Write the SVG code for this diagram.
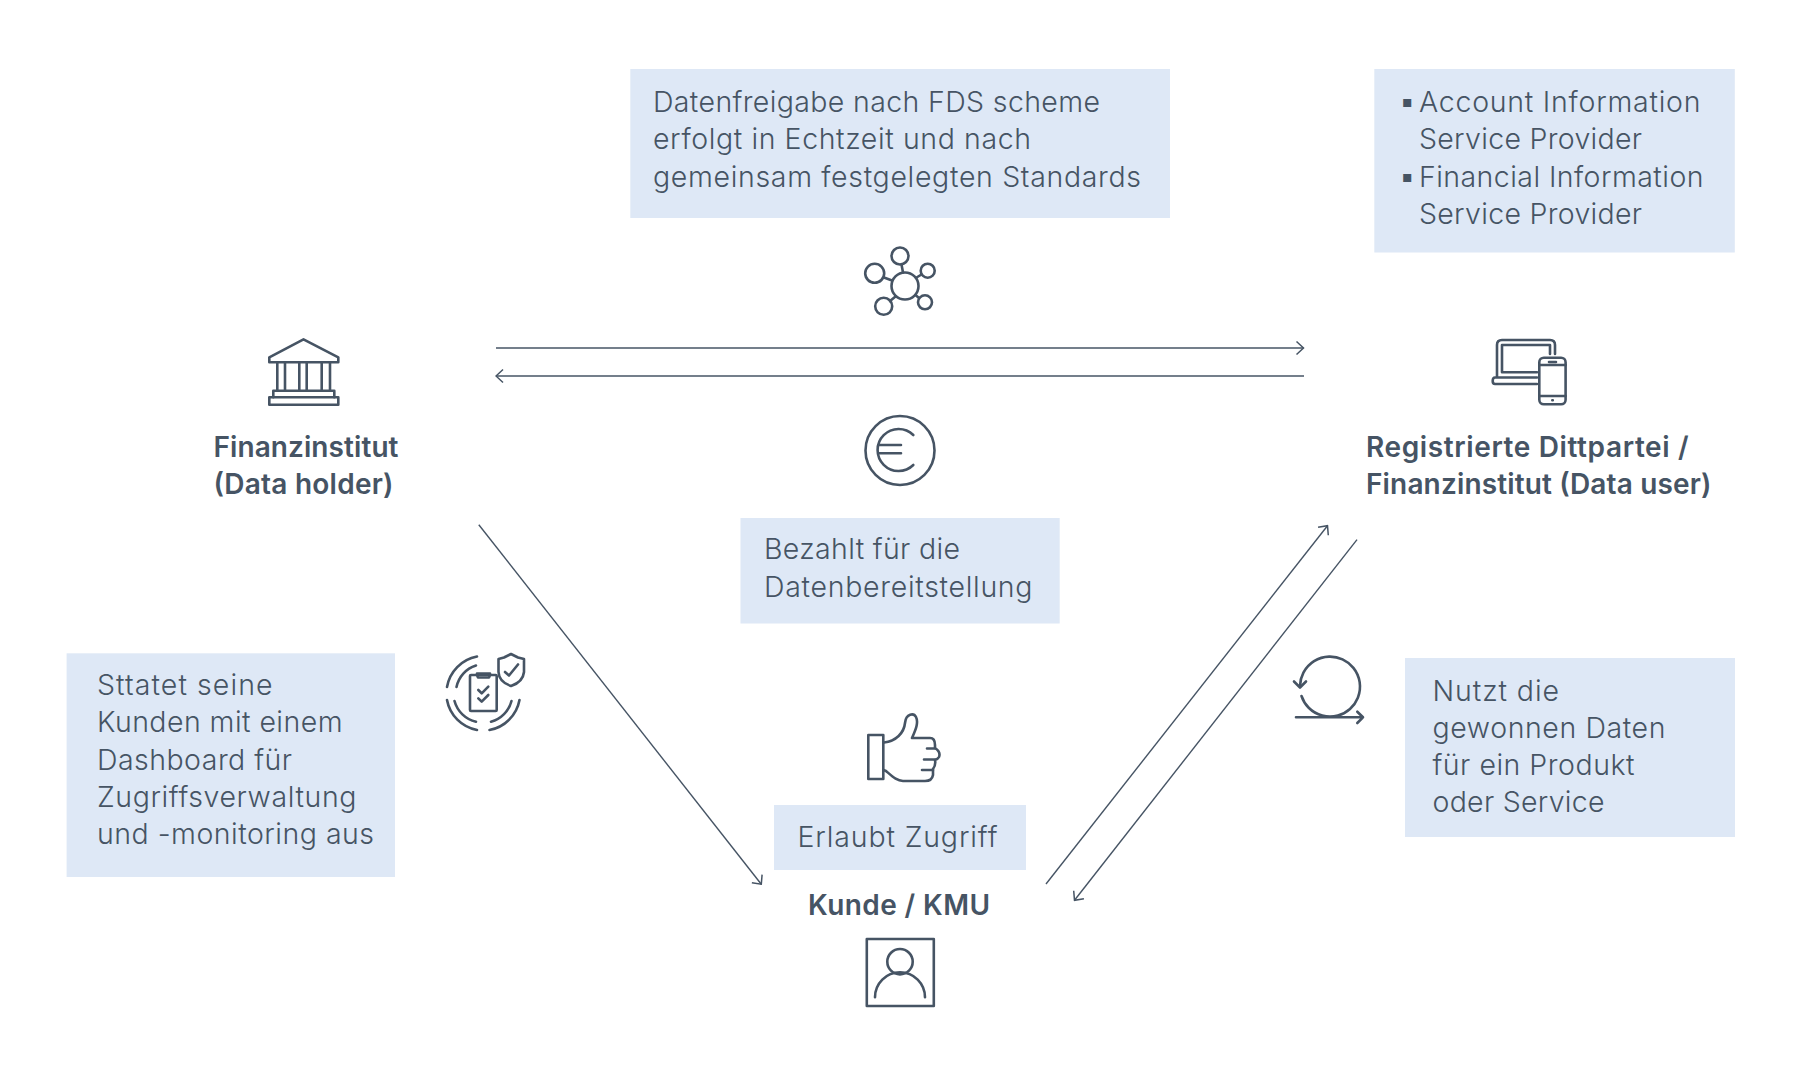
<svg xmlns="http://www.w3.org/2000/svg" width="1800" height="1080" viewBox="0 0 1800 1080">
<style>
.bx{fill:#dee8f6}
.t{font-family:"Inter","Liberation Sans",sans-serif;font-size:28.5px;fill:#465464;font-weight:300}
.p{font-size:33px}
.b{font-family:"Inter","Liberation Sans",sans-serif;font-size:28px;fill:#465464;font-weight:600}
.i{fill:none;stroke:#465464;stroke-width:2.6;stroke-linecap:round;stroke-linejoin:round}
.c{fill:none;stroke:#465464;stroke-width:1.4}
</style>
<defs>
<marker id="arr" viewBox="0 0 14 20" markerUnits="userSpaceOnUse" markerWidth="14" markerHeight="20" refX="13" refY="10" orient="auto">
<path d="M6 3.500L13 10L6 16.500" fill="none" stroke="#465464" stroke-width="1.500"/>
</marker>
</defs>
<rect width="1800" height="1080" fill="#fff"/>
<g id="connectors">
<line class="c" x1="496" y1="348" x2="1303.500" y2="348" marker-end="url(#arr)"/>
<line class="c" x1="1304" y1="376" x2="496" y2="376" marker-end="url(#arr)"/>
<line class="c" x1="478.800" y1="524.700" x2="761.300" y2="884.200" marker-end="url(#arr)"/>
<line class="c" x1="1046" y1="884" x2="1327.500" y2="525.700" marker-end="url(#arr)"/>
<line class="c" x1="1357" y1="539.600" x2="1074.500" y2="900.300" marker-end="url(#arr)"/>
</g>
<g id="note-fds">
<rect class="bx" x="630.300" y="69" width="539.700" height="149"/>
<text class="t" x="653" y="112" textLength="447">Datenfreigabe nach FDS scheme</text>
<text class="t" x="653" y="149" textLength="378">erfolgt in Echtzeit und nach</text>
<text class="t" x="653" y="186.500" textLength="488">gemeinsam festgelegten Standards</text>
</g>
<g id="note-providers">
<rect class="bx" x="1374.300" y="69" width="360.500" height="183.500"/>
<text class="t p" x="1398" y="113">▪</text>
<text class="t" x="1419" y="112" textLength="281.500">Account Information</text>
<text class="t" x="1419" y="149" textLength="223">Service Provider</text>
<text class="t p" x="1398" y="187.500">▪</text>
<text class="t" x="1419" y="186.500" textLength="284.500">Financial Information</text>
<text class="t" x="1419" y="223.500" textLength="223">Service Provider</text>
</g>
<g id="icon-network" class="i">
<circle cx="905" cy="286" r="13.500"/>
<circle cx="900" cy="256" r="8.500"/>
<circle cx="874.700" cy="273.300" r="9.500"/>
<circle cx="927.700" cy="270.700" r="7"/>
<circle cx="925" cy="302.300" r="7"/>
<circle cx="883.700" cy="306.300" r="8.500"/>
<path d="M901.500 264.500L903 272.500M884 277.500L892 280.500M916.500 277.500L921.500 274.500M915.500 295L919 298M895.500 296.500L890 301"/>
</g>
<g id="node-bank">
<g class="i">
<path d="M269.300 357.300L303.500 339.300L338.300 357.300V362.300H269.300Z"/>
<path d="M277.300 362.300V390.700M285 362.300V390.700M299.300 362.300V390.700M306.700 362.300V390.700M321.700 362.300V390.700M330 362.300V390.700"/>
<path d="M273.300 397.300V390.700H334.300V397.300"/>
<path d="M269.300 397.300H338.300V404.700H269.300Z"/>
</g>
<text class="b" x="213.500" y="456.700" textLength="185">Finanzinstitut</text>
<text class="b" x="213.500" y="494" textLength="180">(Data holder)</text>
</g>
<g id="node-user">
<g class="i">
<path d="M1497 376.500V345Q1497 340 1502 340H1550Q1555 340 1555 345V354"/>
<path d="M1502 345H1550V354M1502 345V372.300H1537"/>
<path d="M1537 377.500H1495Q1492.700 377.500 1492.700 381Q1492.700 384 1495 384H1537"/>
<rect x="1539.300" y="357.700" width="26.300" height="46.600" rx="4.500"/>
<path d="M1539.300 365H1565.600M1539.300 396H1565.600M1549 362H1556M1552.300 400.300H1552.800"/>
</g>
<text class="b" x="1366" y="456.700" textLength="322.500">Registrierte Dittpartei /</text>
<text class="b" x="1366" y="494" textLength="345.500">Finanzinstitut (Data user)</text>
</g>
<g id="icon-euro" class="i">
<circle cx="900" cy="450.500" r="34.500"/>
<path d="M913.300 435A21 21 0 1 0 913.300 465"/>
<path d="M878.300 445H901M878.300 453.300H901"/>
</g>
<g id="note-paid">
<rect class="bx" x="740.500" y="518" width="319.200" height="105.500"/>
<text class="t" x="764" y="559.300" textLength="196">Bezahlt für die</text>
<text class="t" x="764" y="596.500" textLength="268.500">Datenbereitstellung</text>
</g>
<g id="note-dashboard">
<rect class="bx" x="66.600" y="653.300" width="328.400" height="223.700"/>
<text class="t" x="97" y="695" textLength="175.500">Sttatet seine</text>
<text class="t" x="97" y="732.400" textLength="245.500">Kunden mit einem</text>
<text class="t" x="97" y="769.500" textLength="195">Dashboard für</text>
<text class="t" x="97" y="807" textLength="259.500">Zugriffsverwaltung</text>
<text class="t" x="97" y="844" textLength="277">und -monitoring aus</text>
</g>
<g id="icon-checklist" class="i">
<rect x="470" y="675" width="26.700" height="36" rx="1"/>
<path d="M477 675V673.500H490V675L489 677.500H478Z"/>
<path d="M478.300 690L481.700 693.300L488.300 686.700M478.300 698.300L481.700 701.700L488.300 695"/>
<path d="M511 654L518 657.500L524 659V672Q523 682 511 686Q499 682 498.500 672V659L504 657.500Z"/>
<path d="M505 672L509 675.500L518 664.500"/>
<path d="M447 687A37.500 37.500 0 0 1 477 656.500M456.500 687A28.500 28.500 0 0 1 476 665.500"/>
<path d="M447 700A37.500 37.500 0 0 0 477 730M454.500 701A29 29 0 0 0 476 721.700"/>
<path d="M489.500 730A37.500 37.500 0 0 0 519.500 700M491 721.700A29 29 0 0 0 511.500 701"/>
</g>
<g id="note-uses">
<rect class="bx" x="1405" y="658" width="330" height="179"/>
<text class="t" x="1432.500" y="700.500" textLength="126.500">Nutzt die</text>
<text class="t" x="1432.500" y="738.400" textLength="233">gewonnen Daten</text>
<text class="t" x="1432.500" y="775.400" textLength="202">für ein Produkt</text>
<text class="t" x="1432.500" y="812.400" textLength="172">oder Service</text>
</g>
<g id="icon-loop" class="i">
<path d="M1301.500 696A30 30 0 1 0 1300 686"/>
<path d="M1294 681.500L1300 687.500L1306 681.500"/>
<path d="M1296 717.300H1363M1357.300 711.700L1363 717.300L1357.300 723"/>
</g>
<g id="icon-thumb" class="i">
<rect x="868.300" y="735" width="15" height="44"/>
<path d="M884 742.500C896 741 904 733 905 723C906 713 914 713 916 717C919 723 915 731 912 738H930Q935 738 935 745V748Q941 752 939 757Q938 759 935 760Q936 765 933 769V775Q932 781 925 781H903C897 781 893 777 886 771L883.500 770"/>
<path d="M927 748.500H935M924 759.500H935M922 770H933"/>
</g>
<g id="note-allow">
<rect class="bx" x="774" y="805" width="252" height="65"/>
<text class="t" x="797.500" y="847" textLength="200">Erlaubt Zugriff</text>
</g>
<g id="node-customer">
<text class="b" x="808" y="915.400" textLength="182">Kunde / KMU</text>
<g class="i">
<rect x="866.800" y="939" width="67" height="67"/>
<circle cx="900" cy="961.700" r="12.700"/>
<path d="M875 997.300A25 25 0 0 1 925 997.300"/>
</g>
</g>
</svg>
